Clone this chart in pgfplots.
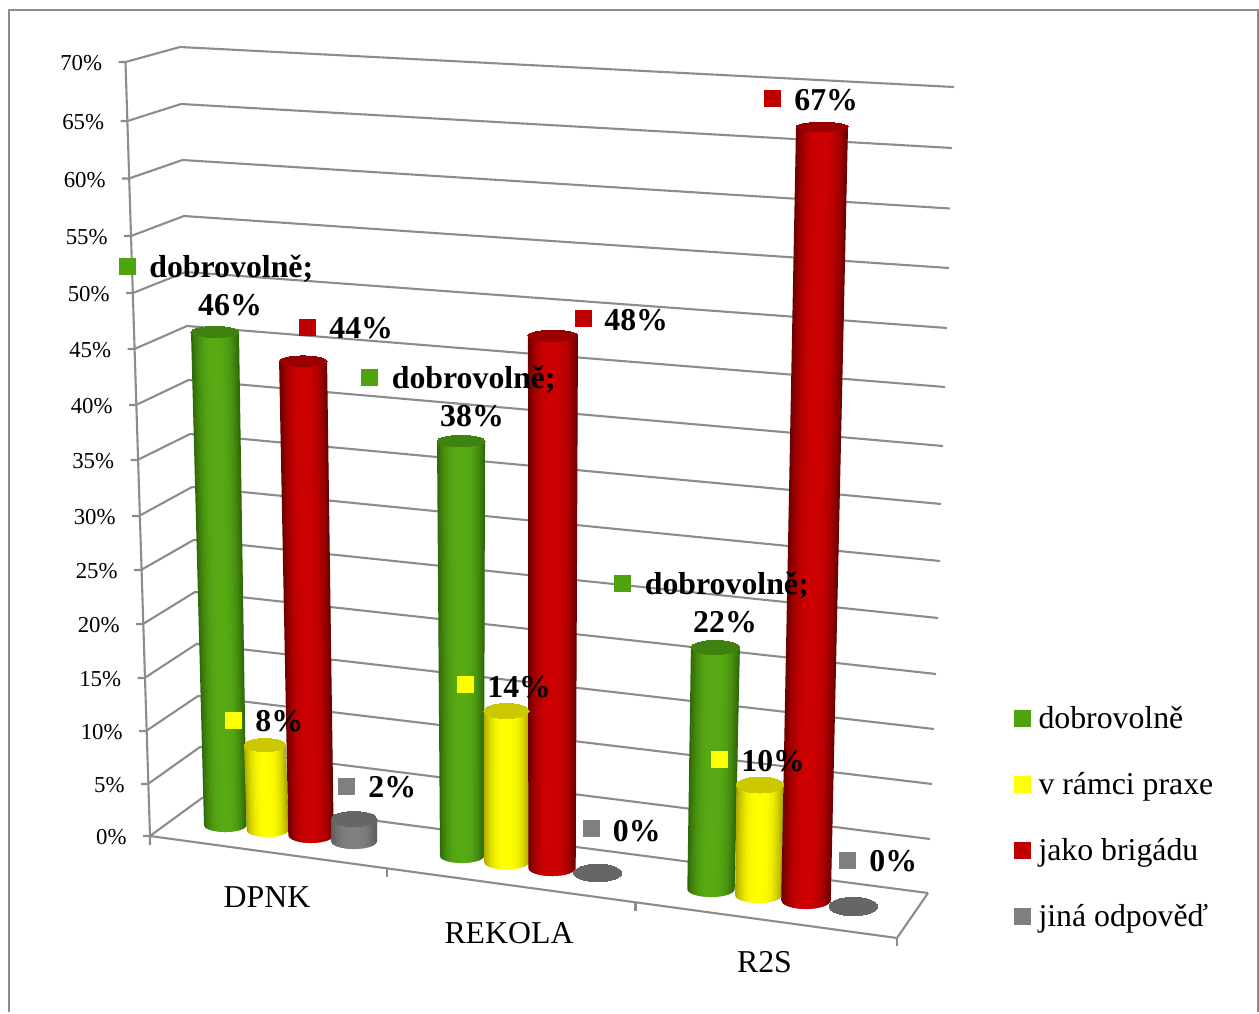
\documentclass[border=0pt]{standalone}
\usepackage{fontspec}
\setmainfont{Liberation Serif}
\usepackage{pgfplots}
\usepackage{pgfplotstable}
\pgfplotsset{compat=1.18}

% Colour ramps across a cylinder: dark at both rims, light in the middle
\newcommand\makeramp[3]{%
  \definecolor{#1L}{HTML}{#2}\definecolor{#1D}{HTML}{#3}%
  \pgfplotsforeachungrouped \ri in {0,...,35}{%
    \pgfmathsetmacro\rt{(\ri+0.5)/18-1}%
    \pgfmathsetmacro\rf{100*(1-abs(\rt)^2.6)}%
    \colorlet{#1S\ri}{#1L!\rf!#1D}%
  }%
}
\makeramp{green}{57AA14}{2C6408}
\makeramp{yellow}{FFFF00}{A8A400}
\makeramp{red}{CC0000}{660000}
\makeramp{gray}{808080}{5A5A5A}
\definecolor{greencap}{HTML}{40820F}
\definecolor{yellowcap}{HTML}{CCC800}
\definecolor{redcap}{HTML}{990000}
\definecolor{graycap}{HTML}{666666}
\definecolor{gridc}{HTML}{8C8C8C}
\definecolor{keygreen}{HTML}{4EA30F}
\definecolor{keyyellow}{HTML}{FFFF00}
\definecolor{keyred}{HTML}{C00000}
\definecolor{keygray}{HTML}{7F7F7F}

% One row per cylinder: value in percent, foot position, lean and height per percent, radii
\pgfplotstableread{
ramp   v  x0     y0    sx      sy      hwb   hwt   ryb  ryt
green  46 225.3  825   -0.224  10.717  21.3  24.0  7.0  5.5
yellow 8  267.5  830   -0.31   10.625  20.8  21.0  7.0  6.5
red    44 311    835   -0.18   10.77   22.7  24.0  8.0  5.2
gray   2  354    841   0       11.0    23.0  23.0  8.0  7.5
green  38 462    856   -0.026  10.92   22.0  24.0  7.0  5.5
yellow 14 506.5  862   0       10.786  22.5  22.7  7.5  7.5
red    48 552    868   0.02    11.09   23.7  25.0  8.0  5.5
gray   0  597.7  873   0       11.0    24.0  24.0  8.7  8.7
green  22 711    889   0.2     10.98   23.7  24.5  8.0  7.0
yellow 10 758.5  895   0.15    11.0    23.4  23.5  8.0  8.0
red    67 806    900   0.239   11.54   24.8  26.0  9.0  4.5
gray   0  853.3  906.5 0       11.0    24.3  24.3  9.2  9.2
}\cyltable

% A level line: tick, side wall, back wall, with its percent label
\newcommand\gridlevel[7]{%
  \addplot[gridc,line width=1.05pt,forget plot] coordinates {(#1-7,#2) (#1,#2) (#3,#4) (#5,#6)};
  \node[anchor=base east,inner sep=0pt,font=\fontsize{11.4}{13}\selectfont,xshift=-8pt,yshift=-4.3pt]
    at (axis cs:#1-7,#2) {#7\%};
}
% A data label: key square plus text
\newcommand\valkey[3]{%
  \addplot[only marks,mark=square*,mark size=4pt,mark options={fill=#1,draw=#1,line width=0pt},forget plot]
    coordinates {(#2,#3)};
}
\newcommand\vallabel[3][base west]{%
  \node[anchor=#1,inner sep=0pt,font=\fontsize{15.9}{18}\selectfont\bfseries]
    at (axis cs:#2) {#3};
}
\newcommand\catlabel[3]{%
  \node[anchor=base,inner sep=0pt,font=\fontsize{15.9}{18}\selectfont] at (axis cs:#1,#2) {#3};
}

\begin{document}
\begin{tikzpicture}
\begin{axis}[
  x=0.5pt,y=0.5pt,
  xmin=0,xmax=1259,ymin=0,ymax=1012,
  y dir=reverse,
  axis lines=none,
  clip=false,
  legend style={at={(axis cs:1014.5,702)},anchor=north west,draw=none,fill=none,
    font=\fontsize{15.9}{18}\selectfont,row sep=16.5pt,inner sep=0pt,outer sep=0pt,
    /tikz/every odd column/.append style={column sep=2pt}},
  legend cell align=left,
]
% page extent
\path (axis cs:0,0) rectangle (axis cs:1259,1012);

% outer frame
\addplot[gridc,line width=1pt,forget plot] coordinates {(9,1012) (9,10) (1258,10) (1258,1012)};

% walls and floor
\addplot[gridc,line width=1.05pt,forget plot] coordinates {(125.5,62) (150,836) (150,845)};
\addplot[gridc,line width=1.05pt,forget plot] coordinates {(150,836) (897,938) (928,893)};
\addplot[gridc,line width=1.05pt,forget plot] coordinates {(897,938) (897,946)};
\addplot[gridc,line width=1.05pt,forget plot] coordinates {(387,868) (387,877)};
\addplot[gridc,line width=1.05pt,forget plot] coordinates {(635.5,902) (635.5,911)};
\gridlevel{125.5}{62}{180}{47}{954}{87}{70}
\gridlevel{127.5}{121}{181}{104}{952}{148}{65}
\gridlevel{129}{178.5}{182.5}{160}{950}{208.5}{60}
\gridlevel{131}{236}{184}{216}{949}{268}{55}
\gridlevel{133}{293}{185.5}{272}{947}{328}{50}
\gridlevel{134.5}{349}{187}{326}{945}{387}{45}
\gridlevel{136}{405}{188.5}{380}{943}{446}{40}
\gridlevel{137.5}{460}{190}{434}{941}{504}{35}
\gridlevel{139}{516}{192}{487}{940}{561}{30}
\gridlevel{141}{570}{193.5}{540}{938}{618}{25}
\gridlevel{143}{624}{195}{592}{936}{674}{20}
\gridlevel{144.5}{678}{196.5}{644}{934}{729}{15}
\gridlevel{146}{731}{198}{696}{932}{784}{10}
\gridlevel{148}{784}{200}{747}{930}{839}{5}
\gridlevel{150}{836}{202}{798}{928}{893}{0}

% cylinders: overlapping vertical strips for the round shading, an ellipse mark for the lid
\pgfplotsforeachungrouped \cylrow in {0,...,11}{%
  \pgfplotstablegetelem{\cylrow}{ramp}\of\cyltable \let\cRamp\pgfplotsretval
  \pgfplotstablegetelem{\cylrow}{v}\of\cyltable \let\cVal\pgfplotsretval
  \pgfplotstablegetelem{\cylrow}{x0}\of\cyltable \let\cXz\pgfplotsretval
  \pgfplotstablegetelem{\cylrow}{y0}\of\cyltable \let\cYz\pgfplotsretval
  \pgfplotstablegetelem{\cylrow}{sx}\of\cyltable \let\cSx\pgfplotsretval
  \pgfplotstablegetelem{\cylrow}{sy}\of\cyltable \let\cSy\pgfplotsretval
  \pgfplotstablegetelem{\cylrow}{hwb}\of\cyltable \let\cHb\pgfplotsretval
  \pgfplotstablegetelem{\cylrow}{hwt}\of\cyltable \let\cHt\pgfplotsretval
  \pgfplotstablegetelem{\cylrow}{ryb}\of\cyltable \let\cRb\pgfplotsretval
  \pgfplotstablegetelem{\cylrow}{ryt}\of\cyltable \let\cRt\pgfplotsretval
  \pgfmathsetmacro\cXt{\cXz+\cVal*\cSx}%
  \pgfmathsetmacro\cYt{\cYz-\cVal*\cSy}%
  \pgfplotsforeachungrouped \cylstrip in {0,...,35}{%
    \pgfmathsetmacro\ta{\cylstrip/18-1}%
    \pgfmathsetmacro\tb{min(1,(\cylstrip+1.6)/18-1)}%
    \pgfmathsetmacro\tc{(\cylstrip+0.5)/18-1}%
    \pgfmathsetmacro\xba{\cXz+\cHb*\ta}%
    \pgfmathsetmacro\xbb{\cXz+\cHb*\tb}%
    \pgfmathsetmacro\xbc{\cXz+\cHb*\tc}%
    \pgfmathsetmacro\xta{\cXt+\cHt*\ta}%
    \pgfmathsetmacro\xtb{\cXt+\cHt*\tb}%
    \pgfmathsetmacro\yba{\cYz+\cRb*sqrt(max(0,1-\ta*\ta))}%
    \pgfmathsetmacro\ybb{\cYz+\cRb*sqrt(max(0,1-\tb*\tb))}%
    \pgfmathsetmacro\ybc{\cYz+\cRb*sqrt(max(0,1-\tc*\tc))}%
    \edef\stripcmd{\noexpand\addplot[fill=\cRamp S\cylstrip,draw=none,forget plot]
      coordinates {(\xba,\yba) (\xbc,\ybc) (\xbb,\ybb) (\xtb,\cYt) (\xta,\cYt) (\xba,\yba)};}%
    \stripcmd
  }%
  \pgfmathsetmacro\lidx{0.5*\cHt}%
  \pgfmathsetmacro\lidy{0.5*\cRt}%
  \edef\lidcmd{\noexpand\addplot[only marks,mark=*,mark size=1pt,forget plot,
      mark options={fill=\cRamp cap,draw=\cRamp cap,line width=0pt,xscale=\lidx,yscale=\lidy}]
      coordinates {(\cXt,\cYt)};}%
  \lidcmd
}

% value labels
\valkey{keygreen}{127}{266}  \vallabel{149,277}{dobrovolně;}  \vallabel[base]{230,315}{46\%}
\valkey{keyred}{307}{327}    \vallabel{329,338}{44\%}
\valkey{keyyellow}{233}{720} \vallabel{255,731.5}{8\%}
\valkey{keygray}{346}{786}   \vallabel{368,797}{2\%}
\valkey{keygreen}{369}{377}  \vallabel{391.5,388}{dobrovolně;} \vallabel[base]{472,426}{38\%}
\valkey{keyred}{583}{318}    \vallabel{604,330}{48\%}
\valkey{keyyellow}{465}{684} \vallabel{487,697}{14\%}
\valkey{keygray}{591}{828}   \vallabel{612.5,841}{0\%}
\valkey{keygreen}{622}{583}  \vallabel{644.5,594}{dobrovolně;} \vallabel[base]{725,632}{22\%}
\valkey{keyyellow}{719}{759} \vallabel{741,771}{10\%}
\valkey{keyred}{772}{98}     \vallabel{794,110}{67\%}
\valkey{keygray}{847}{860}   \vallabel{869,871.5}{0\%}

% categories
\catlabel{267}{907.5}{DPNK}
\catlabel{509}{943}{REKOLA}
\catlabel{764.5}{972}{R2S}

% legend
\addlegendimage{only marks,mark=square*,mark size=4pt,mark options={fill=keygreen,draw=keygreen,line width=0pt}}
\addlegendentry{dobrovolně}
\addlegendimage{only marks,mark=square*,mark size=4pt,mark options={fill=keyyellow,draw=keyyellow,line width=0pt}}
\addlegendentry{v rámci praxe}
\addlegendimage{only marks,mark=square*,mark size=4pt,mark options={fill=keyred,draw=keyred,line width=0pt}}
\addlegendentry{jako brigádu}
\addlegendimage{only marks,mark=square*,mark size=4pt,mark options={fill=keygray,draw=keygray,line width=0pt}}
\addlegendentry{jiná odpověď}
\end{axis}
\end{tikzpicture}
\end{document}
